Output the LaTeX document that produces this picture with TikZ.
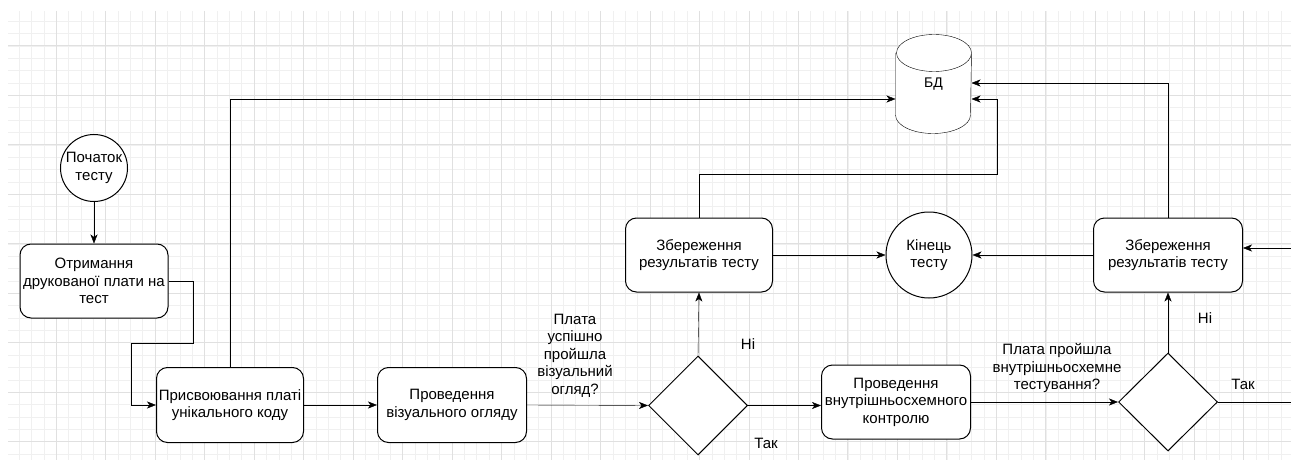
\documentclass[tikz,border=0pt]{standalone}
\usepackage{fontspec}
\setmainfont{Liberation Sans}
\usetikzlibrary{shapes,arrows.meta,calc}
\pgfdeclarelayer{background}
\pgfsetlayers{background,main}

\begin{document}
\begin{tikzpicture}[%
  x=1pt,y=1pt,
  proc/.style={rectangle,draw,fill=white,rounded corners=11pt,
    minimum width=148pt,minimum height=74pt,align=center,inner sep=1pt},
  term/.style={circle,draw,fill=white,align=center,inner sep=0pt},
  decide/.style={diamond,draw,fill=white,minimum width=99pt,
    minimum height=99pt,inner sep=0pt},
  flow/.style={-{Stealth[length=9pt,width=7pt,inset=2.5pt]}},
  lbl/.style={align=center,inner sep=0pt},
  every node/.style={font=\fontsize{15}{17.5}\selectfont},
  minorgrid/.style={draw=black!6,line width=0.8pt},
  majorgrid/.style={draw=black!12,line width=1pt},
  line width=1pt]
    \useasboundingbox (0,0) rectangle (1291,-460);
    % Nodes
    \node[term,minimum size=67pt] (start) at (94,-168) {Початок\\тесту};
    \node[proc] (get) at (94,-281) {Отримання\\друкованої плати на\\тест};
    \node[proc,minimum width=147pt,minimum height=75pt] (assign) at (230,-405)
      {Присвоювання платі\\унікального коду};
    \node[proc,minimum width=149pt,minimum height=75pt] (visual) at (452,-405)
      {Проведення\\візуального огляду};
    \node[decide] (dec1) at (698,-405.5) {};
    \node[proc,minimum width=147pt] (save1) at (699,-255)
      {Збереження\\результатів тесту};
    \node[term,minimum size=86pt] (endc) at (929,-255) {Кінець\\тесту};
    \node[proc,minimum width=149pt] (isc) at (896,-402)
      {Проведення\\внутрішньосхемного\\контролю};
    \node[decide,minimum height=98pt] (dec2) at (1168,-402) {};
    \node[proc,minimum width=149pt] (save2) at (1168,-255)
      {Збереження\\результатів тесту};
    \node[rectangle,minimum width=75pt,minimum height=98pt,inner sep=0pt,
      font=\fontsize{14}{16}\selectfont] (db) at (933.5,-84) {БД};
    % Labels
    \node[lbl] (q1) at (575,-355.5)
      {Плата\\успішно\\пройшла\\візуальний\\огляд?};
    \node[lbl] (no1) at (748,-344) {Ні};
    \node[lbl] (yes1) at (766,-443) {Так};
    \node[lbl] (q2) at (1057,-368)
      {Плата пройшла\\внутрішньосхемне\\тестування?};
    \node[lbl] (no2) at (1205,-318) {Ні};
    \node[lbl] (yes2) at (1243,-384) {Так};
    \coordinate (outR) at (1291,-402);
    \coordinate (inR) at (1291,-248);
    % Grid and database cylinder behind everything
    \begin{pgfonlayer}{background}
      \begin{scope}
        \clip (8,-11) rectangle (1291,-460);
        \foreach \i in {-4,...,100}
          \draw[minorgrid] ({56.3+12.37*\i},-11) -- ++(0,-449);
        \foreach \j in {-3,...,34}
          \draw[minorgrid] (8,{-46-12.37*\j}) -- ++(1283,0);
        \foreach \i in {-1,...,25}
          \draw[majorgrid] ({56.3+49.48*\i},-11) -- ++(0,-449);
        \foreach \j in {-1,...,9}
          \draw[majorgrid] (8,{-46-49.48*\j}) -- ++(1283,0);
      \end{scope}
      \draw[fill=white] ($(db.north west)+(0,-18.5)$) -- ($(db.south west)+(0,18.5)$)
        arc (180:360:37.5 and 18.5) -- ($(db.north east)+(0,-18.5)$)
        arc (0:180:37.5 and 18.5) arc (180:360:37.5 and 18.5);
    \end{pgfonlayer}
    % Connectors
    \draw[flow] (start) -- (get);
    \draw[flow] (get.east) -- ++(25,0) -- ++(0,-62) -- ++(-62,0) |- (assign.west);
    \draw[flow] (assign.north) |- ([yshift=-15pt]db.west);
    \draw[flow] (assign) -- (visual);
    \draw[flow] (visual.east) -- (dec1.west);
    \draw[flow] (dec1.north) -- (save1.south);
    \draw[flow] (dec1.east) -- (isc.west |- dec1.east);
    \draw[flow] (isc.east) -- (dec2.west);
    \draw[flow] (dec2.north) -- (save2.south);
    \draw (dec2.east) -- (outR);
    \draw[flow] (inR) -- ([yshift=7pt]save2.east);
    \draw[flow] (save2.west) -- (endc.east);
    \draw[flow] (save1.east) -- (endc.west);
    \draw[flow] (save1.north) -- ++(0,43) -- ++(298,0) |- ([yshift=-15pt]db.east);
    \draw[flow] (save2.north) |- ([yshift=1pt]db.east);
\end{tikzpicture}
\end{document}
